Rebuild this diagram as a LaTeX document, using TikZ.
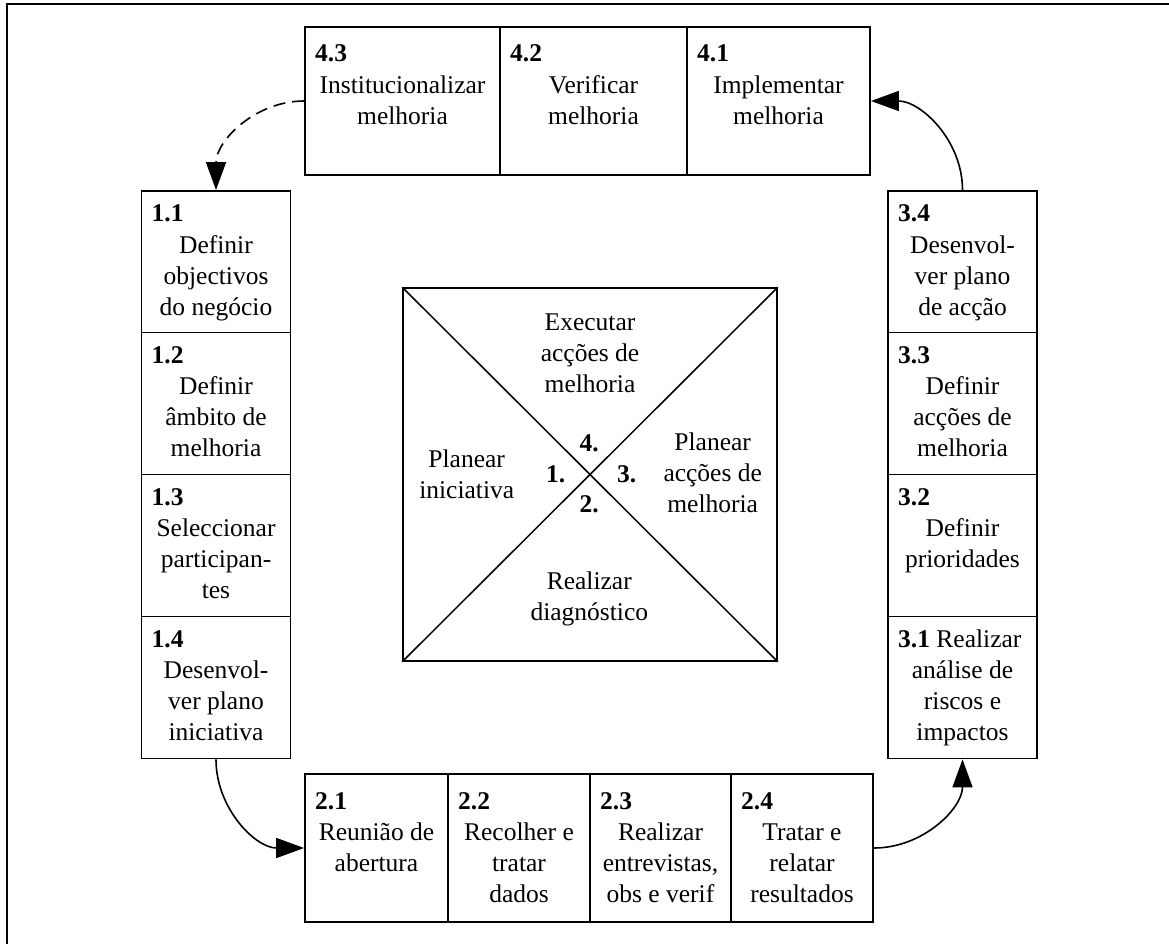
\documentclass[tikz,border=0pt]{standalone}
\usepackage{fontspec}
\setmainfont{Liberation Serif}
\usetikzlibrary{arrows.meta}

\tikzset{
  cell/.style={draw, line width=1.8pt, inner sep=0pt, rectangle},
  numtxt/.style={inner sep=0pt, font=\fontsize{25.5}{31}\selectfont\bfseries},
  headtxt/.style={inner sep=0pt, font=\fontsize{25.5}{31}\selectfont},
  bodytxt/.style={inner sep=0pt, font=\fontsize{25.5}{31}\selectfont, anchor=base},
  flow/.style={line width=1.6pt, -{Triangle[length=28pt,width=20pt]}},
}

% one process box: name, x1, y1, x2, y2, heading, body, baseline offset of heading
\newcommand{\procbox}[8]{%
  \node[cell, minimum width={#4pt-#2pt}, minimum height={#5pt-#3pt}]
    (#1) at ({(#2+#4)/2},{(#3+#5)/2}) {};
  \node[headtxt, anchor=base west] (#1n) at ({#2+10},{#3+#8}) {#6};
  \node[bodytxt] (#1t) at ({(#2+#4)/2},{#3+#8+31.5})
    {\begin{tabular}[t]{@{}c@{}}#7\end{tabular}};
}

\begin{document}
\begin{tikzpicture}[x=1pt,y=-1pt]
\useasboundingbox (0,0) rectangle (1169,944);

% frame
\coordinate (fa) at (7,944);
\coordinate (fb) at (7,4);
\coordinate (fc) at (1169,4);
\draw[line width=1.8pt] (fa) -- (fb) -- (fc);

% phase 4 (top row)
\procbox{b43}{305}{27}{500}{175}{\textbf{4.3}}{Institucionalizar\\melhoria}{35}
\procbox{b42}{500}{27}{687}{175}{\textbf{4.2}}{Verificar\\melhoria}{35}
\procbox{b41}{687}{27}{870}{175}{\textbf{4.1}}{Implementar\\melhoria}{35}

% phase 1 (left column)
\procbox{b11}{141.5}{191}{290.5}{332.5}{\textbf{1.1}}{Definir\\objectivos\\do negócio}{30.5}
\procbox{b12}{141.5}{332.5}{290.5}{474.5}{\textbf{1.2}}{Definir\\âmbito de\\melhoria}{30.5}
\procbox{b13}{141.5}{474.5}{290.5}{616.5}{\textbf{1.3}}{Seleccionar\\participan-\\tes}{30.5}
\procbox{b14}{141.5}{616.5}{290.5}{758.5}{\textbf{1.4}}{Desenvol-\\ver plano\\iniciativa}{30.5}

% phase 3 (right column)
\procbox{b34}{888}{191}{1037}{332.5}{\textbf{3.4}}{Desenvol-\\ver plano\\de acção}{30.5}
\procbox{b33}{888}{332.5}{1037}{474.5}{\textbf{3.3}}{Definir\\acções de\\melhoria}{30.5}
\procbox{b32}{888}{474.5}{1037}{616.5}{\textbf{3.2}}{Definir\\prioridades}{30.5}
\procbox{b31}{888}{616.5}{1037}{758.5}{\textbf{3.1} Realizar}{análise de\\riscos e\\impactos}{30.5}

% phase 2 (bottom row)
\procbox{b21}{305}{774}{448}{922}{\textbf{2.1}}{Reunião de\\abertura}{35}
\procbox{b22}{448}{774}{590}{922}{\textbf{2.2}}{Recolher e\\tratar\\dados}{35}
\procbox{b23}{590}{774}{731}{922}{\textbf{2.3}}{Realizar\\entrevistas,\\obs e verif}{35}
\procbox{b24}{731}{774}{873}{922}{\textbf{2.4}}{Tratar e\\relatar\\resultados}{35}

% central square with the four phases
\node[cell, line width=1.6pt, minimum width=374pt, minimum height=373pt] (sq) at (590,474.5) {};
\draw[line width=1.5pt] (sq.north west) -- (sq.south east);
\draw[line width=1.5pt] (sq.north east) -- (sq.south west);

\node[bodytxt] (ph4) at (590,330.7) {\begin{tabular}[t]{@{}c@{}}Executar\\acções de\\melhoria\end{tabular}};
\node[bodytxt] (ph1) at (466.7,467.3) {\begin{tabular}[t]{@{}c@{}}Planear\\iniciativa\end{tabular}};
\node[bodytxt] (ph3) at (712.7,450.7) {\begin{tabular}[t]{@{}c@{}}Planear\\acções de\\melhoria\end{tabular}};
\node[bodytxt] (ph2) at (589.3,589.3) {\begin{tabular}[t]{@{}c@{}}Realizar\\diagnóstico\end{tabular}};

\node[numtxt, anchor=base] (n4) at (589.3,451.7) {4.};
\node[numtxt, anchor=base] (n1) at (555.7,482.7) {1.};
\node[numtxt, anchor=base] (n3) at (626.7,482.7) {3.};
\node[numtxt, anchor=base] (n2) at (589.3,512.3) {2.};

% cycle connectors
\draw[flow, dash pattern=on 12pt off 7pt] (b43.west) to[out=180, in=90] (b11.north);
\draw[flow] (b14.south) to[out=-90, in=180] (b21.west);
\draw[flow] (b24.east) to[out=0, in=-90] (b31.south);
\draw[flow] (b34.north) to[out=90, in=0] (b41.east);

\end{tikzpicture}
\end{document}
